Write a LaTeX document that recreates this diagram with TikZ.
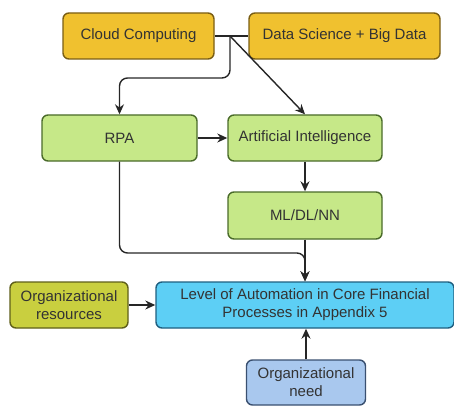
\documentclass[tikz,border=0pt]{standalone}
\usepackage{fontspec}
\setmainfont{Liberation Sans}
\usetikzlibrary{arrows.meta}
\definecolor{goldfill}{HTML}{F0C12F}
\definecolor{golddraw}{HTML}{7A5E14}
\definecolor{greenfill}{HTML}{C6E888}
\definecolor{greendraw}{HTML}{4A6B2A}
\definecolor{bluefill}{HTML}{5DCFF5}
\definecolor{bluedraw}{HTML}{1F5F80}
\definecolor{olivefill}{HTML}{C9CF3F}
\definecolor{olivedraw}{HTML}{5F5F1A}
\definecolor{skyfill}{HTML}{A9C8EE}
\definecolor{skydraw}{HTML}{3A5070}
\definecolor{linkcol}{HTML}{262626}
\definecolor{txt}{HTML}{333333}
\tikzset{
  box/.style={draw, line width=1.4pt, rounded corners=6pt, align=center,
    inner sep=2pt, font=\fontsize{15}{18}\selectfont, text=txt},
  goldbox/.style={box, fill=goldfill, draw=golddraw},
  greenbox/.style={box, fill=greenfill, draw=greendraw},
  bluebox/.style={box, fill=bluefill, draw=bluedraw},
  olivebox/.style={box, fill=olivefill, draw=olivedraw},
  skybox/.style={box, fill=skyfill, draw=skydraw},
  link/.style={draw=linkcol, line width=1.4pt},
  arrowlink/.style={link, -{Stealth[length=10pt,width=9pt]}},
}
\begin{document}
\begin{tikzpicture}[x=1pt,y=-1pt]
  \useasboundingbox (0,0) rectangle (454,406);

  % source technologies
  \node[goldbox, minimum width=151pt, minimum height=46pt] (cloud) at (138.5,36) {Cloud Computing};
  \node[goldbox, minimum width=191pt, minimum height=46pt] (ds) at (344.5,36) {Data Science + Big Data};

  % automation technologies
  \node[greenbox, minimum width=155pt, minimum height=46pt] (rpa) at (119.5,138) {RPA};
  \node[greenbox, minimum width=154pt, minimum height=46pt] (ai) at (305,138) {Artificial Intelligence};
  \node[greenbox, minimum width=154pt, minimum height=47pt] (ml) at (305,215.5) {ML/DL/NN};

  % outcome and organisational factors
  \node[bluebox, minimum width=298pt, minimum height=46pt] (level) at (305,305)
    {Level of Automation in Core Financial\\Processes in Appendix 5};
  \node[olivebox, minimum width=118pt, minimum height=46pt] (res) at (69,305)
    {Organizational\\resources};
  \node[skybox, minimum width=119pt, minimum height=45pt] (need) at (306,382.5)
    {Organizational\\need};

  % junction between the two source boxes
  \coordinate (j) at (230,36);
  \coordinate (rpabend) at (230,78);
  \coordinate (rpadrop) at (rpa.south |- 0,253);
  \coordinate (levelbend) at (level.north |- 0,253);

  \draw[link] (cloud.east) -- (ds.west);
  \draw[arrowlink, rounded corners=8pt] (j) -- (rpabend) -- (rpa.north |- rpabend) -- (rpa.north);
  \draw[arrowlink] (j) -- (ai.north);
  \draw[arrowlink] (rpa.east) -- (ai.west);
  \draw[arrowlink] (ai.south) -- (ml.north);
  \draw[arrowlink] (ml.south) -- (level.north);
  \draw[arrowlink, rounded corners=8pt] (rpa.south) -- (rpadrop) -- (levelbend) -- (level.north);
  \draw[arrowlink] (res.east) -- (level.west);
  \draw[arrowlink] (need.north) -- (need.north |- level.south);
\end{tikzpicture}
\end{document}
